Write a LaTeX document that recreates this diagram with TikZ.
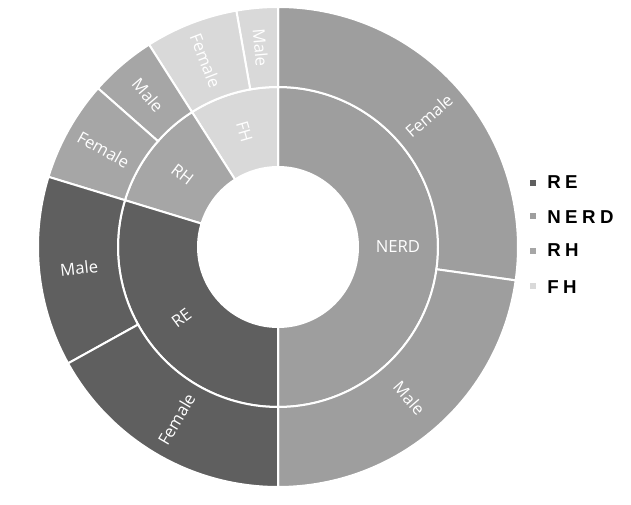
\documentclass[tikz,border=0pt]{standalone}
\usepackage{fontspec}
\usepackage{tikz}
\newfontfamily\chartfont{Open Sans}
\newfontfamily\keyfont[LetterSpace=24]{Liberation Sans}
\definecolor{reC}{HTML}{5F5F5F}
\definecolor{nerdC}{HTML}{9E9E9E}
\definecolor{rhC}{HTML}{A6A6A6}
\definecolor{fhC}{HTML}{D9D9D9}
\def\ringpart[#1](#2:#3:#4:#5){\draw[#1] (#2:#4) arc (#2:#3:#4) -- (#3:#5) arc (#3:#2:#5) -- cycle;}
\tikzset{
  seg/.style={draw=white, line width=1.5pt},
  lbl/.style={text=white, inner sep=0pt, font=\chartfont\fontsize{12.5}{15}\selectfont},
  key/.style={minimum size=4.5pt, inner sep=0pt},
  keytext/.style={anchor=west, inner sep=0pt, font=\keyfont\bfseries\fontsize{14}{16}\selectfont}
}

\begin{document}
\begin{tikzpicture}[x=0.75pt, y=0.75pt]
			%%%%% START %%%%%
			\useasboundingbox (-278, -258) rectangle (353, 247);
			
			% inner ring
			\ringpart[seg, fill=nerdC](-90:90:80:160);
			\ringpart[seg, fill=fhC](90:122.5:80:160);
			\ringpart[seg, fill=rhC](122.5:163:80:160);
			\ringpart[seg, fill=reC](163:270:80:160);
			
			% outer ring
			\ringpart[seg, fill=nerdC](-8:90:160:240);
			\ringpart[seg, fill=nerdC](-90:-8:160:240);
			\ringpart[seg, fill=fhC](90:100:160:240);
			\ringpart[seg, fill=fhC](100:122.5:160:240);
			\ringpart[seg, fill=rhC](122.5:138.6:160:240);
			\ringpart[seg, fill=rhC](138.6:163:160:240);
			\ringpart[seg, fill=reC](163:209:160:240);
			\ringpart[seg, fill=reC](209:270:160:240);
			
			% labels, inner ring
			\node[lbl] (nerd) at (0:120) {NERD};
			\node[lbl, rotate=-73.75] (fh) at (106.25:120) {FH};
			\node[lbl, rotate=-37.25] (rh) at (142.75:120) {RH};
			\node[lbl, rotate=36.5] (re) at (216.5:120) {RE};
			
			% labels, outer ring
			\node[lbl, rotate=41] (nerdF) at (41:200) {Female};
			\node[lbl, rotate=-49] (nerdM) at (-49:200) {Male};
			\node[lbl, rotate=-85] (fhM) at (95:200) {Male};
			\node[lbl, rotate=-68.75] (fhF) at (111.25:200) {Female};
			\node[lbl, rotate=-49.45] (rhM) at (130.55:200) {Male};
			\node[lbl, rotate=-29.2] (rhF) at (150.8:200) {Female};
			\node[lbl, rotate=6] (reM) at (186:200) {Male};
			\node[lbl, rotate=59.5] (reF) at (239.5:200) {Female};
			
			% legend
			\node[key, fill=reC] (keyRE) at (255, 64) {};
			\node[key, fill=nerdC] (keyNERD) at (255, 30.5) {};
			\node[key, fill=rhC] (keyRH) at (255, -4) {};
			\node[key, fill=fhC] (keyFH) at (255, -39.5) {};
			\node[keytext] (txtRE) at (269, 65) {RE};
			\node[keytext] (txtNERD) at (269, 30) {NERD};
			\node[keytext] (txtRH) at (269, -3.5) {RH};
			\node[keytext] (txtFH) at (269, -40) {FH};
			%%%%% END %%%%%
\end{tikzpicture}
\end{document}
